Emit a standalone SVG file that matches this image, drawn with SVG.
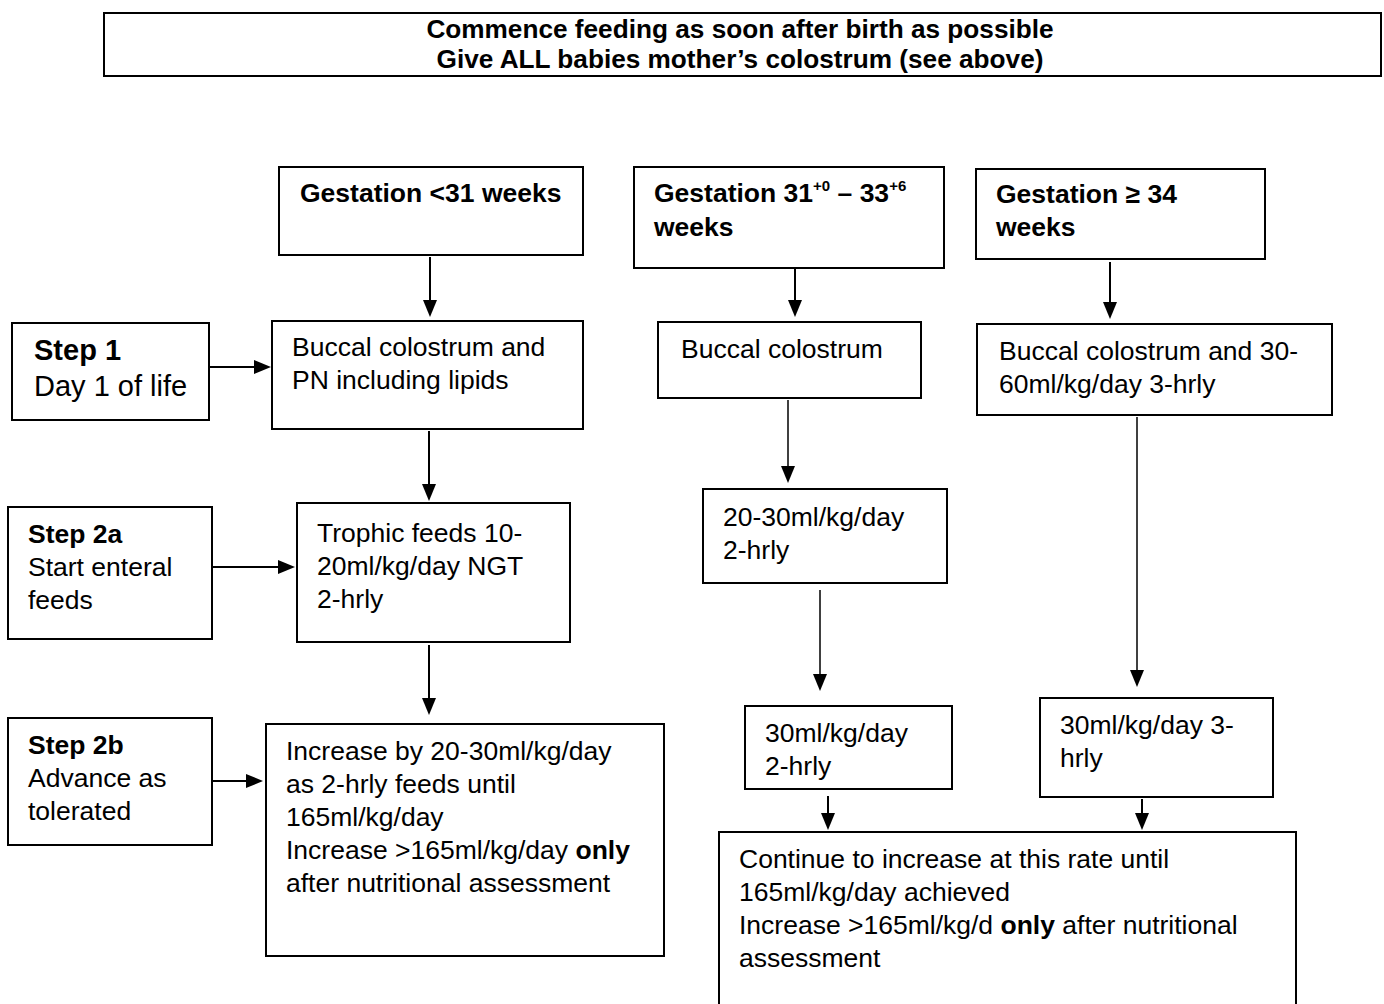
<svg xmlns="http://www.w3.org/2000/svg" width="1384" height="1004" viewBox="0 0 1384 1004">
<defs>
<style>
.box{fill:#fff;stroke:#000;stroke-width:2}
text{font-family:"Liberation Sans",Arial,sans-serif;font-size:26.5px;fill:#000}
.b{font-weight:bold}
.big{font-size:29px}
.ttl{font-size:26.2px;font-weight:bold}
.sup{font-size:15px;font-weight:bold}
.ln{stroke:#000;stroke-width:2;fill:none}
.thin{stroke:#000;stroke-width:1.5;fill:none}
</style>
</defs>
<rect width="1384" height="1004" fill="#fff"/>
<g id="connectors">
<line class="ln" x1="430" y1="257" x2="430" y2="302"/>
<path d="M423,300 L437,300 L430,317 Z"/>
<line class="ln" x1="209" y1="367" x2="256" y2="367"/>
<path d="M254,360 L271,367 L254,374 Z"/>
<line class="ln" x1="429" y1="431" x2="429" y2="486"/>
<path d="M422,484 L436,484 L429,501 Z"/>
<line class="ln" x1="212" y1="567" x2="280" y2="567"/>
<path d="M278,560 L295,567 L278,574 Z"/>
<line class="ln" x1="429" y1="645" x2="429" y2="700"/>
<path d="M422,698 L436,698 L429,715 Z"/>
<line class="ln" x1="212" y1="781" x2="248" y2="781"/>
<path d="M246,774 L263,781 L246,788 Z"/>
<line class="ln" x1="795" y1="269" x2="795" y2="302"/>
<path d="M788,300 L802,300 L795,317 Z"/>
<line class="thin" x1="788" y1="400" x2="788" y2="468"/>
<path d="M781,466 L795,466 L788,483 Z"/>
<line class="thin" x1="820" y1="590" x2="820" y2="676"/>
<path d="M813,674 L827,674 L820,691 Z"/>
<line class="ln" x1="1110" y1="262" x2="1110" y2="304"/>
<path d="M1103,302 L1117,302 L1110,319 Z"/>
<line class="thin" x1="1137" y1="417" x2="1137" y2="672"/>
<path d="M1130,670 L1144,670 L1137,687 Z"/>
<line class="ln" x1="828" y1="796" x2="828" y2="815"/>
<path d="M821,813 L835,813 L828,830 Z"/>
<line class="ln" x1="1142" y1="799" x2="1142" y2="815"/>
<path d="M1135,813 L1149,813 L1142,830 Z"/>
</g>
<g id="top">
<rect class="box" x="104" y="13" width="1277" height="63"/>
<text class="ttl" x="740" y="38" text-anchor="middle">Commence feeding as soon after birth as possible</text>
<text class="ttl" x="740" y="68" text-anchor="middle">Give ALL babies mother’s colostrum (see above)</text>
</g>
<g id="g31">
<rect class="box" x="279" y="167" width="304" height="88"/>
<text class="b" x="300" y="202">Gestation &lt;31 weeks</text>
</g>
<g id="g31to33">
<rect class="box" x="634" y="167" width="310" height="101"/>
<text class="b" x="654" y="202">Gestation 31<tspan class="sup" dy="-11">+0</tspan><tspan dy="11"> – 33</tspan><tspan class="sup" dy="-11">+6</tspan></text>
<text class="b" x="654" y="236">weeks</text>
</g>
<g id="g34">
<rect class="box" x="976" y="169" width="289" height="90"/>
<text class="b" x="996" y="203">Gestation ≥ 34</text>
<text class="b" x="996" y="236">weeks</text>
</g>
<g id="step1">
<rect class="box" x="12" y="323" width="197" height="97"/>
<text class="b big" x="34" y="360">Step 1</text>
<text class="big" x="34" y="396">Day 1 of life</text>
</g>
<g id="buccalPN">
<rect class="box" x="272" y="321" width="311" height="108"/>
<text x="292" y="356">Buccal colostrum and</text>
<text x="292" y="389">PN including lipids</text>
</g>
<g id="step2a">
<rect class="box" x="8" y="507" width="204" height="132"/>
<text class="b" x="28" y="543">Step 2a</text>
<text x="28" y="576">Start enteral</text>
<text x="28" y="609">feeds</text>
</g>
<g id="trophic">
<rect class="box" x="297" y="503" width="273" height="139"/>
<text x="317" y="542">Trophic feeds 10-</text>
<text x="317" y="575">20ml/kg/day NGT</text>
<text x="317" y="608">2-hrly</text>
</g>
<g id="step2b">
<rect class="box" x="8" y="718" width="204" height="127"/>
<text class="b" x="28" y="754">Step 2b</text>
<text x="28" y="787">Advance as</text>
<text x="28" y="820">tolerated</text>
</g>
<g id="increase">
<rect class="box" x="266" y="724" width="398" height="232"/>
<text x="286" y="760">Increase by 20-30ml/kg/day</text>
<text x="286" y="793">as 2-hrly feeds until</text>
<text x="286" y="826">165ml/kg/day</text>
<text x="286" y="859">Increase &gt;165ml/kg/day <tspan class="b">only</tspan></text>
<text x="286" y="892">after nutritional assessment</text>
</g>
<g id="buccalMid">
<rect class="box" x="658" y="322" width="263" height="76"/>
<text x="681" y="358">Buccal colostrum</text>
</g>
<g id="rate2030">
<rect class="box" x="703" y="489" width="244" height="94"/>
<text x="723" y="526">20-30ml/kg/day</text>
<text x="723" y="559">2-hrly</text>
</g>
<g id="buccalRight">
<rect class="box" x="977" y="324" width="355" height="91"/>
<text x="999" y="360">Buccal colostrum and 30-</text>
<text x="999" y="393">60ml/kg/day 3-hrly</text>
</g>
<g id="rate30two">
<rect class="box" x="745" y="706" width="207" height="83"/>
<text x="765" y="742">30ml/kg/day</text>
<text x="765" y="775">2-hrly</text>
</g>
<g id="rate30three">
<rect class="box" x="1040" y="698" width="233" height="99"/>
<text x="1060" y="734">30ml/kg/day 3-</text>
<text x="1060" y="767">hrly</text>
</g>
<g id="continue">
<rect class="box" x="719" y="832" width="577" height="190"/>
<text x="739" y="868">Continue to increase at this rate until</text>
<text x="739" y="901">165ml/kg/day achieved</text>
<text x="739" y="934">Increase &gt;165ml/kg/d <tspan class="b">only</tspan> after nutritional</text>
<text x="739" y="967">assessment</text>
</g>
</svg>
